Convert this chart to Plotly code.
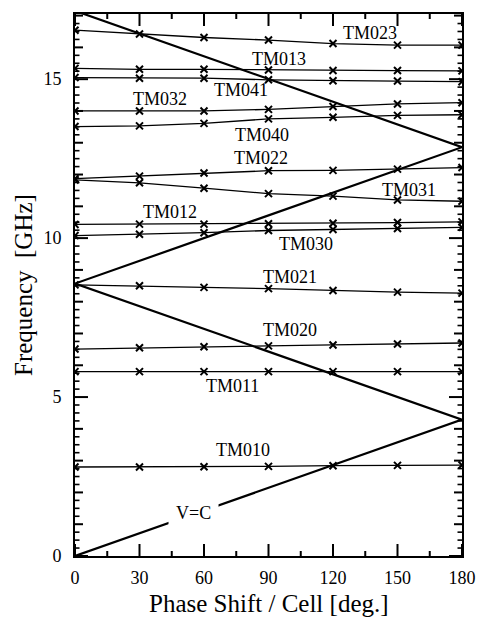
import plotly.graph_objects as go

phase = [0, 30, 60, 90, 120, 150, 180]

modes = {
    "TM010": [2.80, 2.80, 2.81, 2.82, 2.84, 2.85, 2.86],
    "TM011": [5.80, 5.80, 5.80, 5.80, 5.80, 5.80, 5.80],
    "TM020": [6.51, 6.55, 6.58, 6.61, 6.64, 6.67, 6.70],
    "TM021": [8.53, 8.50, 8.45, 8.41, 8.35, 8.30, 8.27],
    "TM030": [10.08, 10.12, 10.17, 10.24, 10.27, 10.30, 10.34],
    "TM012": [10.43, 10.44, 10.44, 10.45, 10.47, 10.49, 10.51],
    "TM031": [11.83, 11.74, 11.57, 11.40, 11.32, 11.20, 11.16],
    "TM022": [11.87, 11.95, 12.05, 12.12, 12.13, 12.17, 12.22],
    "TM040": [13.51, 13.53, 13.61, 13.75, 13.80, 13.86, 13.88],
    "TM032": [14.00, 14.00, 14.00, 14.05, 14.14, 14.22, 14.26],
    "TM041": [15.05, 15.03, 15.03, 14.98, 14.95, 14.94, 14.92],
    "TM013": [15.34, 15.31, 15.31, 15.29, 15.27, 15.27, 15.26],
    "TM023": [16.54, 16.42, 16.31, 16.23, 16.12, 16.07, 16.07],
}

light_x = [0, 180, 0, 180, 0]
light_y = [0, 4.29, 8.57, 12.86, 17.15]

label_pos = {
    "TM023": (137.1, 16.44),
    "TM013": (94.7, 15.65),
    "TM041": (77.3, 14.66),
    "TM032": (39.4, 14.38),
    "TM040": (87.1, 13.25),
    "TM022": (86.4, 12.52),
    "TM031": (155.3, 11.50),
    "TM012": (44.0, 10.82),
    "TM030": (107.6, 9.80),
    "TM021": (100.0, 8.79),
    "TM020": (100.0, 7.12),
    "TM011": (73.2, 5.36),
    "TM010": (78.2, 3.35),
}
vc_pos = (55.3, 1.34)

x_major = [0, 30, 60, 90, 120, 150, 180]
x_minor = [15, 45, 75, 105, 135, 165]
y_labels = [0, 5, 10, 15]
y_units = [1, 2, 3, 4, 6, 7, 8, 9, 11, 12, 13, 14, 16, 17]
y_quarters = [q / 4 for q in range(1, 69) if q % 4 != 0]

FONT = "Liberation Serif"
TICK = "black"

fig = go.Figure()

fig.add_trace(go.Scatter(x=light_x, y=light_y, mode="lines",
                         line=dict(color="black", width=2.2),
                         showlegend=False, hoverinfo="skip"))

for name, vals in modes.items():
    fig.add_trace(go.Scatter(x=phase, y=vals, mode="lines+markers", name=name,
                             line=dict(color="black", width=1.3),
                             marker=dict(symbol="x-thin", size=7,
                                         line=dict(color="black", width=2)),
                             showlegend=False))

shapes = []
def xtick(t, length, w=2):
    for anchor, sign in ((0, 1), (1, -1)):
        shapes.append(dict(type="line", xref="x", yref="y domain", x0=t, x1=t,
                           ysizemode="pixel", yanchor=anchor, y0=0, y1=sign * length,
                           line=dict(color=TICK, width=w), layer="above"))

def ytick(t, length, w=2):
    for anchor, sign in ((0, 1), (1, -1)):
        shapes.append(dict(type="line", yref="y", xref="x domain", y0=t, y1=t,
                           xsizemode="pixel", xanchor=anchor, x0=0, x1=sign * length,
                           line=dict(color=TICK, width=w), layer="above"))

for t in x_major:
    xtick(t, 12)
for t in x_minor:
    xtick(t, 5)
for t in y_labels:
    ytick(t, 13)
for t in y_units:
    ytick(t, 8)
for t in y_quarters:
    ytick(t, 4.5, 1.6)

ann = []
for name, (lx, ly) in label_pos.items():
    ann.append(dict(x=lx, y=ly, xref="x", yref="y", text=name, showarrow=False,
                    font=dict(family=FONT, size=18, color="black")))
ann.append(dict(x=vc_pos[0], y=vc_pos[1], xref="x", yref="y", text="V=C",
                showarrow=False, bgcolor="white", borderpad=7,
                font=dict(family=FONT, size=18, color="black")))
ann.append(dict(x=0.5, y=0, xref="paper", yref="paper", yshift=-47,
                yanchor="middle", text="Phase Shift / Cell [deg.]", showarrow=False,
                font=dict(family=FONT, size=25, color="black")))
ann.append(dict(x=0, y=0.5, xref="paper", yref="paper", xshift=-52,
                xanchor="center", textangle=-90, text="Frequency  [GHz]",
                showarrow=False, font=dict(family=FONT, size=25, color="black")))

fig.update_layout(
    width=488, height=619,
    margin=dict(l=75, r=17, t=12, b=63),
    paper_bgcolor="white", plot_bgcolor="white",
    font=dict(family=FONT, size=18, color="black"),
    annotations=ann,
    shapes=shapes,
    xaxis=dict(range=[0, 180], tickvals=x_major, ticks="",
               showline=True, linecolor="black", linewidth=2, mirror=True,
               showgrid=False, zeroline=False, ticklabelstandoff=4,
               tickfont=dict(family=FONT, size=18)),
    yaxis=dict(range=[0, 17.05], tickvals=y_labels, ticks="",
               showline=True, linecolor="black", linewidth=2, mirror=True,
               showgrid=False, zeroline=False, ticklabelstandoff=8,
               tickfont=dict(family=FONT, size=18)),
)

fig.write_html("out.html")
